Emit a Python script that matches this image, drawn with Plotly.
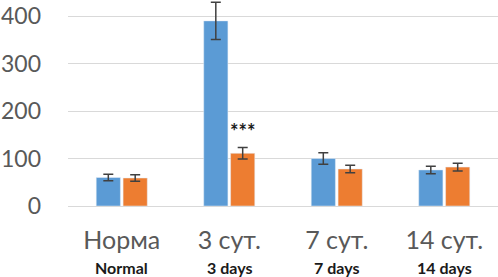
import plotly.graph_objects as go

categories = ["Норма", "3 сут.", "7 сут.", "14 сут."]
categories_en = ["Normal", "3 days", "7 days", "14 days"]
blue_values = [60, 390, 100, 76]
blue_errors = [7, 39, 12, 8]
orange_values = [59, 111, 78, 82]
orange_errors = [7, 12, 8, 8]
y_ticks = [0, 100, 200, 300, 400]
significance = "***"
sig_y = 158

FONT = "Lato"
err_style = dict(type="data", color="#404040", thickness=1.5, width=5, visible=True)

fig = go.Figure()
fig.add_trace(go.Bar(x=categories, y=blue_values, marker_color="#5b9bd5",
                     error_y=dict(array=blue_errors, **err_style)))
fig.add_trace(go.Bar(x=categories, y=orange_values, marker_color="#ed7d31",
                     error_y=dict(array=orange_errors, **err_style)))

for cat, en in zip(categories, categories_en):
    fig.add_annotation(x=cat, xref="x", y=-0.30, yref="paper", text=en,
                       showarrow=False, yanchor="middle",
                       font=dict(family=FONT, size=16, color="#1a1a1a", weight="bold"))

fig.add_annotation(x=categories[1], xref="x", y=sig_y, yref="y", text=significance,
                   xshift=14, showarrow=False,
                   font=dict(family=FONT, size=20, color="#1a1a1a", weight="bold"))

fig.update_layout(
    width=498, height=277,
    margin=dict(l=68, r=0, t=0, b=71),
    paper_bgcolor="white", plot_bgcolor="white",
    showlegend=False,
    barmode="group", bargap=0.5, bargroupgap=0.1,
    font=dict(family=FONT, color="#595959"),
)
fig.update_xaxes(showgrid=False, showline=False, ticks="",
                 tickfont=dict(family=FONT, size=25, color="#595959"),
                 ticklabelstandoff=17)
fig.update_yaxes(range=[0, 434], tickvals=y_ticks, showgrid=True,
                 gridcolor="#d9d9d9", gridwidth=1, zeroline=True,
                 zerolinecolor="#d9d9d9", zerolinewidth=1, showline=False,
                 tickfont=dict(family=FONT, size=23, color="#595959"),
                 ticklabelstandoff=26)

fig.write_html("out.html", config={"displayModeBar": False},
               post_script="document.body.style.margin='0';")
